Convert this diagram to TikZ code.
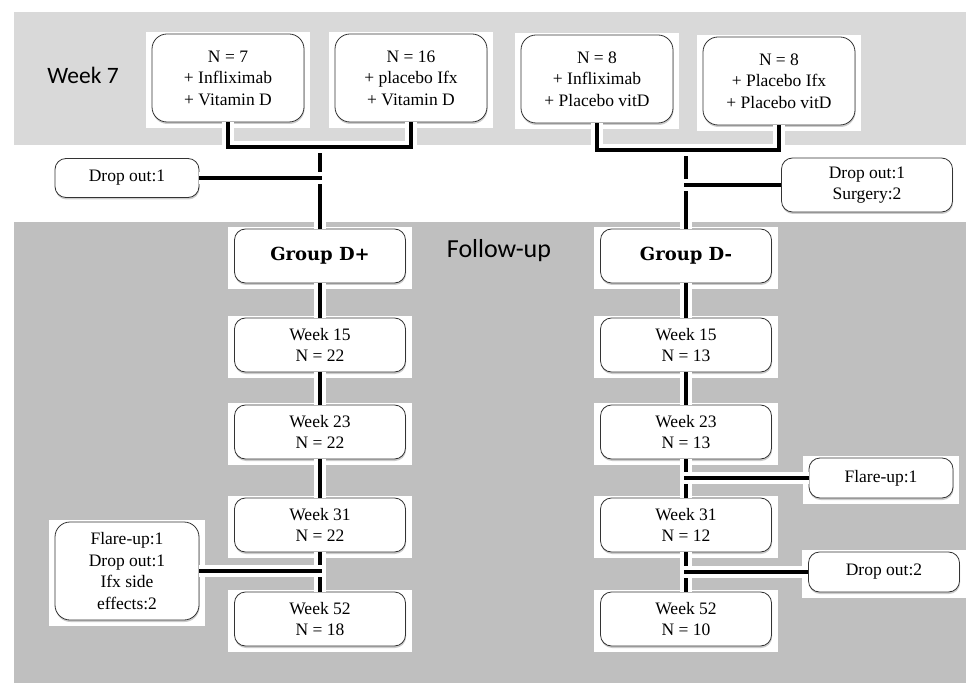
\documentclass[tikz,border=0pt]{standalone}
\usepackage{fontspec}
\setmainfont{Liberation Serif}
\newfontfamily\bandfont{Carlito}
\newfontfamily\groupfont{DejaVu Serif}
\usetikzlibrary{shadows,fit,calc}
\pgfdeclarelayer{bands}
\pgfdeclarelayer{backdrop}
\pgfsetlayers{bands,backdrop,main}

\begin{document}
\begin{tikzpicture}[x=1pt, y=-1pt,
        card/.style={rectangle, rounded corners=11pt, draw=black!80, line width=0.8pt, fill=white, align=center, inner sep=0pt,
            font=\fontsize{17.5}{21.5}\selectfont,
            drop shadow={shadow xshift=0.5pt, shadow yshift=-2pt, opacity=0.4}},
        topcard/.style={card, rounded corners=15pt, minimum width=152pt, minimum height=88pt},
        weekcard/.style={card, minimum width=171pt, minimum height=54pt},
        groupcard/.style={weekcard, font=\groupfont\bfseries\fontsize{18}{22}\selectfont},
        sidecard/.style={card, minimum width=144pt},
        backdrop/.style={fill=white, inner xsep=6pt, inner ysep=4pt, yshift=-2pt},
        link/.style={line width=3.5pt, preaction={draw=white, line width=12pt}},
        bandlabel/.style={font=\bandfont\fontsize{23.5}{28}\selectfont}]
        \useasboundingbox (0,0) rectangle (966,684);

        \node at (228, 78) [topcard] (t1) {N = 7\\+ Infliximab\\+ Vitamin D};
        \node at (411, 78) [topcard] (t2) {N = 16\\+ placebo Ifx\\+ Vitamin D};
        \node at (597, 79) [topcard] (t3) {N = 8\\+ Infliximab\\+ Placebo vitD};
        \node at (779, 81) [topcard] (t4) {N = 8\\+ Placebo Ifx\\+ Placebo vitD};

        \node at (127, 178) [sidecard, minimum height=39pt] (dl) {Drop out:1};
        \node at (867, 185) [sidecard, minimum width=171pt, minimum height=54pt] (dr) {Drop out:1\\Surgery:2};

        \node at (320, 256) [groupcard] (gp) {Group D+};
        \node at (686, 256) [groupcard] (gm) {Group D-};

        \node at (320, 345) [weekcard] (p15) {Week 15\\N = 22};
        \node at (320, 432) [weekcard] (p23) {Week 23\\N = 22};
        \node at (320, 525) [weekcard] (p31) {Week 31\\N = 22};
        \node at (320, 619) [weekcard] (p52) {Week 52\\N = 18};

        \node at (686, 345) [weekcard] (m15) {Week 15\\N = 13};
        \node at (686, 432) [weekcard] (m23) {Week 23\\N = 13};
        \node at (686, 525) [weekcard] (m31) {Week 31\\N = 12};
        \node at (686, 619) [weekcard] (m52) {Week 52\\N = 10};

        \node at (127, 571) [sidecard, rounded corners=15pt, minimum height=98pt] (lf) {Flare-up:1\\Drop out:1\\Ifx side\\effects:2};
        \node at (881, 478) [sidecard, minimum height=40pt] (rf) {Flare-up:1};
        \node at (884, 572) [sidecard, minimum width=151pt, minimum height=40pt] (rd) {Drop out:2};

        \node at (83, 75) [bandlabel] (wk) {Week 7};
        \node at (499, 251) [bandlabel, font=\bandfont\fontsize{26}{30}\selectfont] (fu) {Follow-up};

        \begin{pgfonlayer}{bands}
        \fill [black!15] (14,12) rectangle (966,145);
        \fill [black!25] (14,222) rectangle (966,683);
        \end{pgfonlayer}
        \begin{pgfonlayer}{backdrop}
        \foreach \n in {t1,t2,t3,t4,dl,dr,gp,gm,p15,p23,p31,p52,m15,m23,m31,m52,lf,rf,rd}
            \node [backdrop, fit=(\n)] {};
        \end{pgfonlayer}

        \coordinate (j1) at (320,147);
        \coordinate (j2) at (686,150);
        \draw [link] (j1) -- (gp.north);
        \draw [link] (j2) -- (gm.north);
        \draw [link] (gp) -- (p15) -- (p23) -- (p31) -- (p52);
        \draw [link] (gm) -- (m15) -- (m23) -- (m31) -- (m52);
        \draw [link] (t1.south) |- (j1) -| (t2.south);
        \draw [link] (t3.south) |- (j2) -| (t4.south);
        \draw [link] (dl.east) -- ($(dl.east -| gp.north)+(2,0)$);
        \draw [link] (dr.west) -- ($(dr.west -| gm.north)+(-2,0)$);
        \draw [link] (lf.east) -- ($(lf.east -| p31.south)+(2,0)$);
        \draw [link] (rf.west) -- ($(rf.west -| m23.south)+(-2,0)$);
        \draw [link] (rd.west) -- ($(rd.west -| m31.south)+(-2,0)$);
      \end{tikzpicture}
\end{document}
